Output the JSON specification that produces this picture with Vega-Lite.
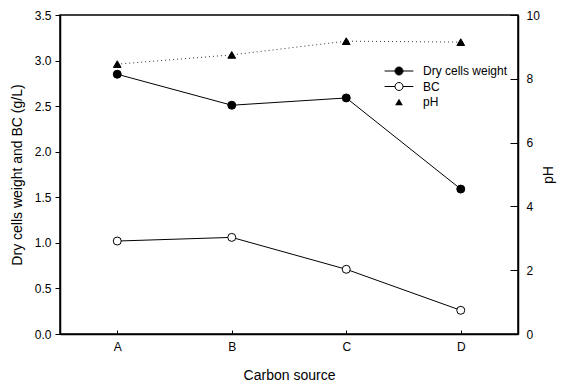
{
  "$schema": "https://vega.github.io/schema/vega-lite/v6.json",
  "width": 458,
  "height": 319,
  "autosize": {"type": "none"},
  "padding": {"left": 60, "top": 15, "right": 48, "bottom": 51},
  "background": "white",
  "config": {
    "font": "Liberation Sans",
    "view": {"stroke": "black", "strokeWidth": 1.5},
    "axis": {"grid": false, "domainColor": "black", "tickColor": "black", "labelColor": "black", "titleColor": "black", "labelFontSize": 12, "titleFontSize": 14, "titleFontWeight": "normal", "labelFont": "Liberation Sans", "titleFont": "Liberation Sans"},
    "legend": {"labelFontSize": 12, "labelColor": "black", "labelFont": "Liberation Sans", "rowPadding": 3.5}
  },
  "data": {
    "values": [
      {"source": "A", "series": "Dry cells weight", "value": 2.85},
      {"source": "B", "series": "Dry cells weight", "value": 2.51},
      {"source": "C", "series": "Dry cells weight", "value": 2.59},
      {"source": "D", "series": "Dry cells weight", "value": 1.59},
      {"source": "A", "series": "BC", "value": 1.02},
      {"source": "B", "series": "BC", "value": 1.06},
      {"source": "C", "series": "BC", "value": 0.71},
      {"source": "D", "series": "BC", "value": 0.26},
      {"source": "A", "series": "pH", "value": 8.46},
      {"source": "B", "series": "pH", "value": 8.75},
      {"source": "C", "series": "pH", "value": 9.18},
      {"source": "D", "series": "pH", "value": 9.15}
    ]
  },
  "encoding": {
    "x": {
      "field": "source", "type": "ordinal",
      "scale": {"type": "point", "padding": 0.5},
      "axis": {"title": "Carbon source", "labelAngle": 0, "tickSize": -4, "labelPadding": 11, "titlePadding": 16, "domainWidth": 1.5}
    }
  },
  "layer": [
    {
      "transform": [{"filter": "datum.series !== 'pH'"}],
      "layer": [
        {
          "mark": {"type": "line", "color": "black", "strokeWidth": 1},
          "encoding": {
            "y": {"field": "value", "type": "quantitative", "scale": {"domain": [0, 3.5]},
              "axis": {"title": "Dry cells weight and BC (g/L)", "values": [0, 0.5, 1, 1.5, 2, 2.5, 3, 3.5], "format": ".1f", "tickSize": 5, "labelPadding": 4, "titlePadding": 10, "domainWidth": 1.5}},
            "detail": {"field": "series"}
          }
        },
        {
          "mark": {"type": "point", "shape": "circle", "size": 64, "stroke": "black", "strokeWidth": 1, "opacity": 1},
          "encoding": {
            "y": {"field": "value", "type": "quantitative", "scale": {"domain": [0, 3.5]}},
            "fill": {"field": "series", "type": "nominal", "scale": {"domain": ["Dry cells weight", "BC"], "range": ["black", "white"]},
              "legend": {"title": null, "orient": "none", "legendX": 333, "legendY": 50, "symbolSize": 64, "labelOffset": 18, "symbolType": "M-3.6,0L-1,0M1,0L3.6,0M-1,0A1,1,0,1,0,1,0A1,1,0,1,0,-1,0Z", "symbolStrokeColor": "black", "symbolStrokeWidth": 1}}
          }
        }
      ]
    },
    {
      "transform": [{"filter": "datum.series === 'pH'"}],
      "layer": [
        {
          "mark": {"type": "line", "color": "#333333", "strokeWidth": 1, "strokeDash": [1, 3]},
          "encoding": {
            "y": {"field": "value", "type": "quantitative", "scale": {"domain": [0, 10]},
              "axis": {"title": "pH", "orient": "right", "values": [0, 2, 4, 6, 8, 10], "tickSize": -8, "labelPadding": 16, "titleAngle": 270, "titlePadding": 16, "domainWidth": 1.5}}
          }
        },
        {
          "mark": {"type": "point", "size": 60, "stroke": "black", "fill": "black", "strokeWidth": 1, "opacity": 1},
          "encoding": {
            "y": {"field": "value", "type": "quantitative", "scale": {"domain": [0, 10]}},
            "shape": {"field": "series", "type": "nominal", "scale": {"domain": ["pH"], "range": ["triangle-up"]},
              "legend": {"title": null, "orient": "none", "legendX": 333, "legendY": 81, "symbolSize": 60, "labelOffset": 18, "symbolFillColor": "black", "symbolStrokeColor": "black", "symbolStrokeWidth": 1}}
          }
        }
      ]
    }
  ],
  "resolve": {"scale": {"y": "independent"}, "axis": {"y": "independent"}}
}
